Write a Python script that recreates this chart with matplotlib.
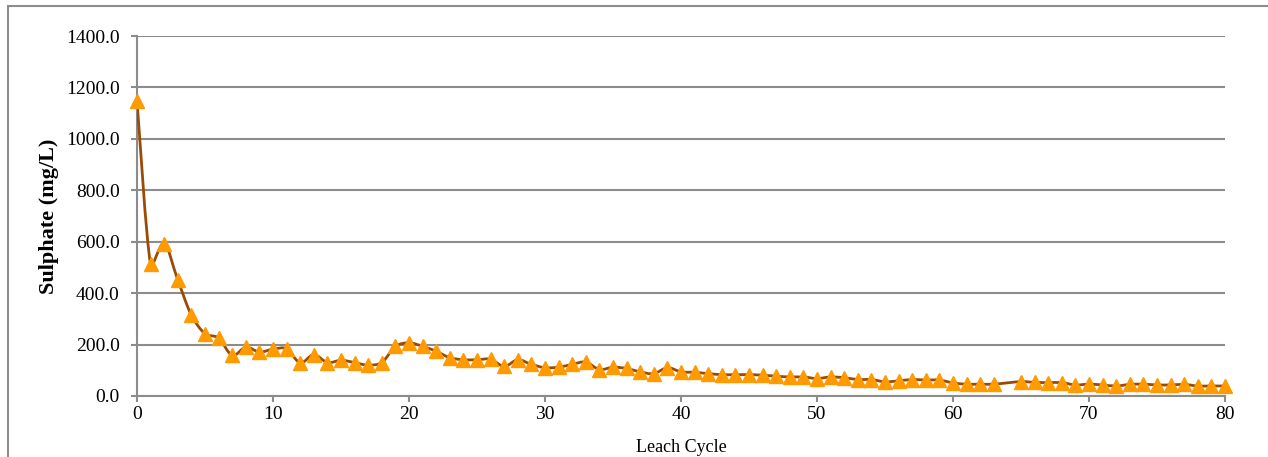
import numpy as np
import matplotlib
matplotlib.use("Agg")
import matplotlib.pyplot as plt
from matplotlib.path import Path
from matplotlib.patches import PathPatch, Rectangle

# leach cycle 64 is missing in the source data
cycles = [0, 1, 2, 3, 4, 5, 6, 7, 8, 9, 10, 11, 12, 13, 14, 15, 16, 17, 18, 19,
          20, 21, 22, 23, 24, 25, 26, 27, 28, 29, 30, 31, 32, 33, 34, 35, 36, 37, 38, 39,
          40, 41, 42, 43, 44, 45, 46, 47, 48, 49, 50, 51, 52, 53, 54, 55, 56, 57, 58, 59,
          60, 61, 62, 63, 65, 66, 67, 68, 69, 70, 71, 72, 73, 74, 75, 76, 77, 78, 79, 80]
sulphate = [1148, 512, 593, 451, 314, 242, 226, 158, 190, 171, 182, 184, 129, 161, 130, 139, 130, 120, 130, 193,
            207, 193, 174, 149, 141, 141, 143, 115, 141, 123, 110, 112, 123, 132, 103, 112, 107, 94, 87, 110,
            94, 92, 87, 83, 83, 83, 81, 77, 74, 74, 68, 74, 71, 64, 64, 55, 59, 64, 62, 62,
            51, 46, 46, 46, 56, 53, 52, 52, 43, 46, 43, 39, 45, 46, 43, 43, 45, 39, 39, 39]

y_ticks = [0, 200, 400, 600, 800, 1000, 1200, 1400]
x_ticks = [0, 10, 20, 30, 40, 50, 60, 70, 80]

line_col = '#9a4b06'
marker_col = '#ff9a00'
grid_col = '#8c8c8c'
font = 'Liberation Serif'

fig = plt.figure(figsize=(12.68, 4.57), dpi=100)
ax = fig.add_axes([137/1268, 1-396/457, (1225-137)/1268, 360/457])

# smoothed line like excel, bezier segments worked out in pixel space
sx, sy = 1088/80, 360/1400
px = np.array(cycles, dtype=float)*sx
py = np.array(sulphate, dtype=float)*sy
pts = np.column_stack([px, py])
n = len(pts)

def tangent(i, seg):
    d = pts[min(i+1, n-1)] - pts[max(i-1, 0)]
    ln = np.hypot(*d)
    return d/ln*min(ln/6, seg/3)

verts = [tuple(pts[0])]
codes = [Path.MOVETO]
for i in range(n-1):
    seg = np.hypot(*(pts[i+1]-pts[i]))
    c1 = pts[i] + tangent(i, seg)
    c2 = pts[i+1] - tangent(i+1, seg)
    verts += [tuple(c1), tuple(c2), tuple(pts[i+1])]
    codes += [Path.CURVE4]*3
verts = [(vx/sx, vy/sy) for vx, vy in verts]
ax.add_patch(PathPatch(Path(verts, codes), fc='none', ec=line_col, lw=2, zorder=3))
ax.plot(cycles, sulphate, ls='none', marker='^', ms=10.5, color=marker_col, mec=marker_col, zorder=4, clip_on=False)

ax.set_xlim(0, 80)
ax.set_ylim(0, 1400)
ax.set_yticks(y_ticks)
ax.set_yticklabels(['%.1f' % v for v in y_ticks])
ax.set_xticks(x_ticks)
ax.yaxis.grid(True, color=grid_col, lw=1.5)
ax.set_axisbelow(True)
for s in ['top', 'right']:
    ax.spines[s].set_visible(False)
for s in ['left', 'bottom']:
    ax.spines[s].set_color(grid_col)
    ax.spines[s].set_linewidth(1.5)
ax.tick_params(axis='both', colors=grid_col, width=1.5, length=4, labelcolor='black', labelsize=14)
ax.tick_params(axis='y', pad=8.5)
for lbl in ax.get_xticklabels() + ax.get_yticklabels():
    lbl.set_fontfamily(font)
ax.set_ylabel('Sulphate (mg/L)', fontsize=16, fontweight='bold', family=font, labelpad=5)
ax.set_xlabel('Leach Cycle', fontsize=13, family=font, labelpad=11.5)

# chart border
fig.patches.append(Rectangle((8/1268, -0.1), 1.2, 1-6/457+0.1, transform=fig.transFigure,
                             fill=False, ec=grid_col, lw=1.5))

fig.savefig('out.png', dpi=100)
